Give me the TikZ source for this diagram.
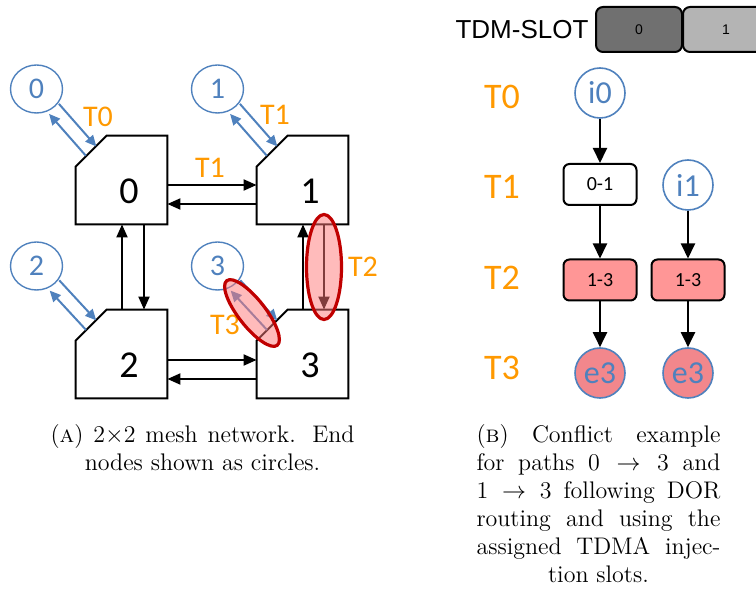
\documentclass[tikz,border=0pt]{standalone}
\usepackage{fontspec}
\newfontfamily\carl{Carlito}
\newfontfamily\arialf{Liberation Sans}
\usetikzlibrary{arrows.meta,shapes.geometric,calc}
\definecolor{nblue}{RGB}{79,129,189}
\definecolor{torange}{RGB}{255,153,0}
\definecolor{dred}{RGB}{192,0,0}
\definecolor{pinkf}{RGB}{255,150,150}
\definecolor{hlfill}{RGB}{255,120,120}
\definecolor{e3fill}{RGB}{242,135,140}
\definecolor{slotd}{RGB}{112,112,112}
\definecolor{slotl}{RGB}{180,180,180}
\newcommand{\capbox}[2]{\parbox[t]{#1}{\fontsize{12}{14}\selectfont
  \leftskip=0pt plus 1fil\rightskip=0pt plus -1fil\parfillskip=0pt plus 2fil\parindent=0pt
  #2\par}}
\begin{document}
\begin{tikzpicture}[x=0.5pt,y=-0.5pt,
  router/.style={minimum width=45.5pt,minimum height=44pt,inner sep=0pt,draw=none},
  rline/.style={line width=1pt,line join=miter},
  rnum/.style={inner sep=0pt,font=\carl\fontsize{19}{19}\selectfont},
  endc/.style={ellipse,draw=nblue,line width=0.7pt,minimum width=26pt,minimum height=24pt,inner sep=0pt,text=nblue,font=\carl\fontsize{15}{15}\selectfont},
  tlab/.style={text=torange,inner sep=0pt,font=\carl\fontsize{15}{15}\selectfont},
  tlabr/.style={text=torange,inner sep=0pt,font=\carl\fontsize{18}{18}\selectfont},
  marrow/.style={line width=1pt,-{Triangle[width=5.5pt,length=6.5pt]}},
  barrow/.style={draw=nblue,line width=1pt,-{Triangle[width=5pt,length=5.5pt]}},
  conflict/.style={ellipse,draw=dred,line width=1.6pt,fill=hlfill,fill opacity=0.5,inner sep=0pt},
  slotbox/.style={draw,line width=1pt,rounded corners=3.5pt,minimum width=43pt,minimum height=22.5pt,inner sep=0pt,font=\arialf\fontsize{7}{7}\selectfont},
  flowc/.style={circle,draw=nblue,line width=0.8pt,minimum size=25pt,inner sep=0pt,text=nblue,font=\carl\fontsize{16}{16}\selectfont},
  flowbox/.style={draw,line width=1pt,rounded corners=3pt,minimum width=36.5pt,minimum height=20.5pt,inner sep=0pt,font=\carl\fontsize{10}{10}\selectfont},
  farrow/.style={line width=1pt,-{Triangle[width=7pt,length=7.5pt]}},
  capt/.style={anchor=north,inner sep=0pt}
]
\useasboundingbox (0,0) rectangle (756,593);
\clip (0,0) rectangle (756,593);

% ---------- (a) mesh ----------
\foreach \n/\x/\y in {0/121.5/180,1/302.5/180,2/121.5/354,3/302.5/354}{
  \node[router] (r\n) at (\x,\y) {};
  \draw[rline] (r\n.south west) -- ([yshift=-15.5pt]r\n.north west) -- ([xshift=15.5pt]r\n.north west) -- (r\n.north east) -- (r\n.south east) -- cycle;
  \coordinate (r\n c) at ([xshift=7.75pt,yshift=-7.75pt]r\n.north west);
  \node[rnum] (r\n t) at ([xshift=3.75pt,yshift=-5.5pt]r\n.center) {\n};
}
\node[endc] (c0) at (36.5,89) {0};
\node[endc] (c1) at (217.5,89) {1};
\node[endc] (c2) at (36.5,266) {2};
\node[endc] (c3) at (217.5,266) {3};

% mesh links
\draw[marrow] ([yshift=-2.5pt]r0.east) -- ([yshift=-2.5pt]r1.west);
\draw[marrow] ([yshift=-12pt]r1.west) -- ([yshift=-12pt]r0.east);
\draw[marrow] ([yshift=-3pt]r2.east) -- ([yshift=-3pt]r3.west);
\draw[marrow] ([yshift=-12.5pt]r3.west) -- ([yshift=-12.5pt]r2.east);
\draw[marrow] ([xshift=0.25pt]r2.north) -- ([xshift=0.25pt]r0.south);
\draw[marrow] ([xshift=11.25pt]r0.south) -- ([xshift=11.25pt]r2.north);
\draw[marrow] ([xshift=0.25pt]r3.north) -- ([xshift=0.25pt]r1.south);
\draw[marrow] ([xshift=10.75pt]r1.south) -- ([xshift=10.75pt]r3.north);

% end node links
\foreach \n in {0,1,2,3}{
  \draw[barrow,shorten >=13.5pt] ($(r\n c)!3.5pt!90:(c\n)$) -- ($(c\n)!3.5pt!-90:(r\n c)$);
  \draw[barrow,shorten <=13pt] ($(c\n)!3.5pt!90:(r\n c)$) -- ($(r\n c)!3.5pt!-90:(c\n)$);
}

% labels
\node[tlab] (lt0) at (98,117) {T0};
\node[tlab] (lt1a) at (275,115) {T1};
\node[tlab] (lt1b) at (210,168) {T1};
\node[tlab] (lt2) at (363,267) {T2};
\node[tlab] (lt3) at (225,325) {T3};

% conflict highlights
\node[conflict,minimum width=17.5pt,minimum height=52.5pt] (hl2) at ($(r1.south)!0.5!(r3.north)+(21.5,0)$) {};
\node[conflict,minimum width=41pt,minimum height=13.5pt,rotate=-52] (hl3) at (252,313) {};

% ---------- (b) schedule ----------
\node[inner sep=0pt,font=\arialf\fontsize{13}{13}\selectfont] (tdm) at (522,30) {TDM-SLOT};
\node[slotbox,fill=slotd] (s0) at (639,29.5) {0};
\node[slotbox,fill=slotl] (s1) at (726,29.5) {1};

\node[tlabr] (rt0) at (502,97) {T0};
\node[tlabr] (rt1) at (502,187) {T1};
\node[tlabr] (rt2) at (502,278) {T2};
\node[tlabr] (rt3) at (502,368) {T3};

\node[flowc] (i0) at (600,93) {i0};
\node[flowbox,fill=white] (b01) at (600,184.5) {0-1};
\node[flowc] (i1) at (688,185) {i1};
\node[flowbox,fill=pinkf] (b13a) at (600,280) {1-3};
\node[flowbox,fill=pinkf] (b13b) at (688,280) {1-3};
\node[flowc,fill=e3fill] (e3a) at (600,373) {e3};
\node[flowc,fill=e3fill] (e3b) at (688,373) {e3};

\draw[farrow] (i0) -- (b01);
\draw[farrow] (b01) -- (b13a);
\draw[farrow] (b13a) -- (e3a);
\draw[farrow] (i1) -- (b13b);
\draw[farrow] (b13b) -- (e3b);

% ---------- captions ----------
\node[capt] (capa) at (202.5,424) {\capbox{152pt}{(\textsc{a})~2$\times$2 mesh network. End\linebreak nodes shown as circles.}};
\node[capt] (capb) at (598.5,424) {\capbox{122pt}{(\textsc{b}) Conflict example\linebreak for paths $0\rightarrow3$ and\linebreak $1\rightarrow3$ following DOR\linebreak routing and using the\linebreak assigned TDMA injec-\linebreak tion slots.}};
\end{tikzpicture}
\end{document}
